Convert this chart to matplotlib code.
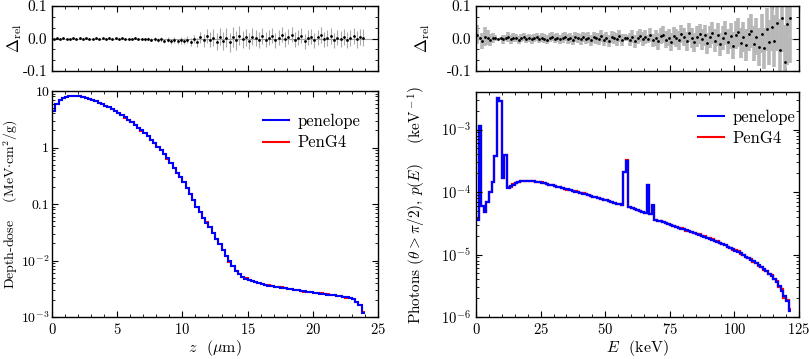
import numpy as np
import matplotlib
matplotlib.use("Agg")
import matplotlib.pyplot as plt
from matplotlib.ticker import MultipleLocator, FixedLocator, LogLocator, NullFormatter
from matplotlib.lines import Line2D

plt.rcParams.update({
    "font.family": "serif",
    "font.serif": ["cmr10", "DejaVu Serif"],
    "mathtext.fontset": "cm",
    "axes.unicode_minus": False,
    "axes.formatter.use_mathtext": True,
    "font.size": 10,
    "axes.linewidth": 1.0,
    "xtick.direction": "in", "ytick.direction": "in",
    "xtick.top": True, "ytick.right": True,
    "xtick.major.size": 4, "ytick.major.size": 4,
    "xtick.minor.size": 2, "ytick.minor.size": 2,
    "xtick.minor.visible": True, "ytick.minor.visible": True,
})

# depth-dose, bins of 0.25 um from 0 to 24 um (MeV cm2/g)
z_step = 0.25
dose = [4.5, 6.0, 7.0, 7.6, 7.95, 8.1, 8.15, 8.1,
        8.0, 7.8, 7.55, 7.25, 6.9, 6.55, 6.2, 5.85,
        5.5, 5.15, 4.8, 4.45, 4.1, 3.75, 3.4, 3.1,
        2.8, 2.5, 2.25, 2.0, 1.78, 1.57, 1.38, 1.2,
        1.04, 0.89, 0.76, 0.64, 0.53, 0.44, 0.36, 0.3,
        0.245, 0.195, 0.152, 0.117, 0.09, 0.071, 0.057, 0.047,
        0.039, 0.031, 0.0245, 0.0193, 0.0152, 0.0121, 0.0097, 0.0079,
        0.0066, 0.0058, 0.0052, 0.0048, 0.0045, 0.0043, 0.0041, 0.0040,
        0.0038, 0.0037, 0.0036, 0.0035, 0.0034, 0.00335, 0.0033, 0.00322,
        0.00315, 0.0031, 0.00303, 0.00297, 0.0029, 0.00285, 0.0028, 0.00274,
        0.0027, 0.00265, 0.0026, 0.00255, 0.0025, 0.00246, 0.00242, 0.00238,
        0.00233, 0.00228, 0.00222, 0.00215, 0.00205, 0.00188, 0.00165, 0.0012]
dose_delta = [0.0, 0.0005, -0.0003, 0.0002, 0.0, -0.0004, 0.0003, 0.0,
              0.0002, -0.0005, 0.0004, 0.0, -0.0003, 0.0006, -0.0002, 0.0003,
              -0.0006, 0.0004, -0.0008, 0.0002, -0.001, 0.0005, -0.0012, -0.0003,
              -0.0015, 0.001, -0.002, -0.0008, -0.003, -0.001, -0.004, -0.002,
              -0.005, -0.003, -0.007, -0.004, -0.008, -0.005, -0.009, -0.006,
              -0.008, -0.004, -0.01, -0.002, -0.012, 0.004, -0.006, 0.008,
              -0.004, 0.003, -0.01, 0.006, -0.008, 0.002, -0.012, 0.005,
              -0.006, 0.009, -0.003, 0.004, -0.008, 0.006, 0.002, -0.005,
              0.008, -0.004, 0.003, 0.009, -0.006, 0.002, 0.011, -0.003,
              0.005, 0.012, -0.004, 0.003, 0.008, -0.009, 0.002, 0.006,
              -0.005, 0.004, 0.01, -0.003, 0.002, 0.008, -0.006, 0.003,
              -0.002, 0.005, -0.004, 0.002, 0.007, -0.003, 0.004, 0.003]
dose_err = [0.002, 0.0015, 0.0013, 0.0012, 0.0012, 0.0012, 0.0012, 0.0012,
            0.0012, 0.0013, 0.0013, 0.0014, 0.0014, 0.0015, 0.0015, 0.0016,
            0.0017, 0.0018, 0.0019, 0.002, 0.0021, 0.0023, 0.0025, 0.0027,
            0.003, 0.0032, 0.0035, 0.0038, 0.004, 0.0045, 0.005, 0.0055,
            0.006, 0.0065, 0.007, 0.0075, 0.008, 0.0085, 0.009, 0.0095,
            0.010, 0.011, 0.012, 0.013, 0.015, 0.017, 0.019, 0.021,
            0.023, 0.025, 0.026, 0.027, 0.028, 0.029, 0.030, 0.030,
            0.029, 0.028, 0.027, 0.026, 0.025, 0.025, 0.024, 0.024,
            0.024, 0.023, 0.023, 0.023, 0.023, 0.023, 0.023, 0.023,
            0.023, 0.023, 0.023, 0.023, 0.023, 0.023, 0.023, 0.023,
            0.023, 0.023, 0.024, 0.024, 0.024, 0.024, 0.024, 0.024,
            0.024, 0.024, 0.024, 0.024, 0.025, 0.025, 0.025, 0.025]

# photon spectrum, 1 keV bins from 0 to 122 keV (1/keV)
e_step = 1.0
photons = [3.6e-5, 1.15e-3, 6.0e-5, 4.8e-5, 7.0e-5, 1.0e-4, 1.45e-4, 3.8e-4, 3.2e-3, 2.9e-3,
           1.7e-4, 3.9e-4, 1.18e-4, 1.23e-4, 1.32e-4, 1.39e-4, 1.44e-4, 1.48e-4, 1.5e-4, 1.51e-4,
           1.51e-4, 1.5e-4, 1.49e-4, 1.47e-4, 1.45e-4, 1.42e-4, 1.385e-4, 1.35e-4, 1.315e-4, 1.28e-4,
           1.25e-4, 1.22e-4, 1.19e-4, 1.16e-4, 1.13e-4, 1.10e-4, 1.075e-4, 1.05e-4, 1.02e-4, 9.95e-5,
           9.7e-5, 9.45e-5, 9.2e-5, 8.95e-5, 8.7e-5, 8.45e-5, 8.2e-5, 7.95e-5, 7.75e-5, 7.55e-5,
           7.35e-5, 7.15e-5, 6.95e-5, 6.75e-5, 6.55e-5, 6.35e-5, 6.15e-5, 2.1e-4, 3.2e-4, 5.8e-5,
           5.6e-5, 5.4e-5, 5.2e-5, 5.0e-5, 4.8e-5, 4.6e-5, 1.32e-4, 4.4e-5, 6.1e-5, 3.6e-5,
           3.5e-5, 3.38e-5, 3.27e-5, 3.16e-5, 3.06e-5, 2.96e-5, 2.87e-5, 2.78e-5, 2.69e-5, 2.6e-5,
           2.52e-5, 2.44e-5, 2.37e-5, 2.29e-5, 2.22e-5, 2.15e-5, 2.08e-5, 2.01e-5, 1.94e-5, 1.87e-5,
           1.8e-5, 1.73e-5, 1.67e-5, 1.6e-5, 1.54e-5, 1.47e-5, 1.41e-5, 1.34e-5, 1.28e-5, 1.22e-5,
           1.16e-5, 1.1e-5, 1.04e-5, 9.8e-6, 9.3e-6, 8.8e-6, 8.3e-6, 7.8e-6, 7.3e-6, 6.8e-6,
           6.3e-6, 5.85e-6, 5.4e-6, 4.95e-6, 4.5e-6, 4.1e-6, 3.65e-6, 3.15e-6, 2.6e-6, 2.2e-6,
           1.8e-6, 1.25e-6]
photon_delta = [0.012, 0.001, -0.008, 0.006, 0.003, -0.004, 0.002, 0.001, 0.0, 0.001,
                -0.003, 0.002, 0.004, -0.002, 0.003, 0.001, -0.004, 0.002, 0.005, -0.001,
                0.002, -0.003, 0.001, 0.004, -0.002, 0.003, 0.0, -0.004, 0.002, 0.005,
                -0.001, 0.003, -0.003, 0.001, 0.006, -0.002, 0.002, -0.005, 0.004, 0.001,
                -0.003, 0.005, -0.001, 0.002, -0.006, 0.004, 0.001, -0.002, 0.007, -0.004,
                0.003, -0.007, 0.005, 0.001, -0.003, 0.008, -0.005, 0.002, 0.001, -0.004,
                0.006, -0.008, 0.003, 0.009, -0.002, 0.004, -0.001, 0.011, -0.006, 0.002,
                -0.009, 0.007, 0.012, -0.004, 0.003, -0.011, 0.008, 0.001, -0.006, 0.014,
                0.004, -0.008, 0.018, 0.002, -0.012, 0.006, 0.015, -0.003, 0.01, -0.015,
                0.005, 0.016, -0.007, 0.012, -0.018, 0.003, 0.017, -0.01, 0.008, -0.022,
                0.011, 0.019, -0.014, 0.004, -0.02, 0.013, 0.022, -0.016, 0.006, -0.026,
                0.015, -0.03, 0.028, -0.012, 0.036, -0.008, 0.048, -0.035, 0.062, -0.072,
                0.045, 0.064]
photon_err = [0.03, 0.006, 0.025, 0.028, 0.022, 0.018, 0.015, 0.009, 0.003, 0.003,
              0.014, 0.009, 0.015, 0.014, 0.014, 0.013, 0.013, 0.013, 0.013, 0.013,
              0.013, 0.013, 0.013, 0.013, 0.013, 0.014, 0.014, 0.014, 0.014, 0.014,
              0.014, 0.015, 0.015, 0.015, 0.015, 0.015, 0.015, 0.016, 0.016, 0.016,
              0.016, 0.016, 0.017, 0.017, 0.017, 0.017, 0.017, 0.018, 0.018, 0.018,
              0.018, 0.018, 0.019, 0.019, 0.019, 0.019, 0.019, 0.011, 0.009, 0.020,
              0.020, 0.020, 0.021, 0.021, 0.021, 0.021, 0.013, 0.022, 0.019, 0.025,
              0.025, 0.025, 0.026, 0.026, 0.026, 0.027, 0.027, 0.027, 0.028, 0.028,
              0.028, 0.029, 0.029, 0.030, 0.030, 0.031, 0.031, 0.032, 0.032, 0.033,
              0.033, 0.034, 0.035, 0.035, 0.036, 0.037, 0.038, 0.039, 0.040, 0.041,
              0.042, 0.044, 0.045, 0.047, 0.048, 0.050, 0.052, 0.054, 0.056, 0.058,
              0.060, 0.063, 0.066, 0.070, 0.074, 0.080, 0.086, 0.095, 0.105, 0.115,
              0.125, 0.14]

labels = ["penelope", "PenG4"]
colors = ["#0000ff", "#ff0000"]
dose_ticks = [1e-3, 1e-2, 0.1, 1, 10]
dose_ticklabels = ["$10^{-3}$", "$10^{-2}$", "0.1", "1", "10"]
delta_ticks = [-0.1, 0.0, 0.1]
delta_ticklabels = ["-0.1", "0.0", "0.1"]

dose = np.array(dose)
photons = np.array(photons)
z_edges = np.arange(len(dose) + 1) * z_step
e_edges = np.arange(len(photons) + 1) * e_step
z_mid = 0.5 * (z_edges[:-1] + z_edges[1:])
e_mid = 0.5 * (e_edges[:-1] + e_edges[1:])
# PenG4 from the relative difference
dose_g4 = dose * (1 + np.array(dose_delta))
photons_g4 = photons * (1 + np.array(photon_delta))

fig = plt.figure(figsize=(8.09, 3.59), dpi=100)
W, H = 809, 359


def box(x0, y0, x1, y1):
    return [x0 / W, 1 - y1 / H, (x1 - x0) / W, (y1 - y0) / H]


ax1t = fig.add_axes(box(52, 6, 378, 71))
ax1 = fig.add_axes(box(52, 91, 378, 317))
ax2t = fig.add_axes(box(476, 6, 799, 71))
ax2 = fig.add_axes(box(476, 92, 799, 317))

# top panels
for ax, x, d, e, lw, ec in [(ax1t, z_mid, dose_delta, dose_err, 0.8, "#a8a8a8"),
                            (ax2t, e_mid, photon_delta, photon_err, 2.6, "#b8b8b8")]:
    ax.axhline(0, color="#a0a0a0", lw=0.8, zorder=0)
    ax.errorbar(x, d, yerr=e, fmt="o", ms=1.0, mfc="k", mec="k", ecolor=ec,
                elinewidth=lw, capsize=0)
    ax.set_ylim(-0.1, 0.1)
    ax.yaxis.set_major_locator(FixedLocator(delta_ticks))
    ax.set_yticklabels(delta_ticklabels)
    ax.yaxis.set_minor_locator(MultipleLocator(0.1 / 3))
    ax.tick_params(labelbottom=False, labelsize=11)
    ax.set_ylabel(r"$\Delta_{\rm rel}$", fontsize=12)

ax1t.set_xlim(0, 25)
ax1t.xaxis.set_major_locator(MultipleLocator(5))
ax1t.xaxis.set_minor_locator(MultipleLocator(1))
ax1t.yaxis.set_label_coords(-0.085, 0.5)
ax2t.set_xlim(0, 125)
ax2t.xaxis.set_major_locator(MultipleLocator(25))
ax2t.xaxis.set_minor_locator(MultipleLocator(5))
ax2t.yaxis.set_label_coords(-0.135, 0.5)

# depth-dose
ax1.stairs(dose_g4, z_edges, color=colors[1], lw=1.5, baseline=None)
ax1.stairs(dose, z_edges, color=colors[0], lw=1.5, baseline=None)
ax1.set_yscale("log")
ax1.set_xlim(0, 25)
ax1.set_ylim(1e-3, 10)
ax1.xaxis.set_major_locator(MultipleLocator(5))
ax1.xaxis.set_minor_locator(MultipleLocator(1))
ax1.yaxis.set_major_locator(FixedLocator(dose_ticks))
ax1.set_yticklabels(dose_ticklabels)
ax1.yaxis.set_minor_locator(LogLocator(subs=np.arange(2, 10)))
ax1.yaxis.set_minor_formatter(NullFormatter())
ax1.set_xlabel(r"$z$  ($\mu$m)", fontsize=11.5)
ax1.set_ylabel(r"Depth-dose    (MeV$\cdot$cm$^2$/g)", fontsize=10)
ax1.yaxis.set_label_coords(-0.097, 0.5)

# photon spectrum
ax2.stairs(photons_g4, e_edges, color=colors[1], lw=1.6, baseline=None)
ax2.stairs(photons, e_edges, color=colors[0], lw=1.6, baseline=None)
ax2.set_yscale("log")
ax2.set_xlim(0, 125)
ax2.set_ylim(1e-6, 4e-3)
ax2.xaxis.set_major_locator(MultipleLocator(25))
ax2.xaxis.set_minor_locator(MultipleLocator(5))
ax2.yaxis.set_minor_locator(LogLocator(subs=np.arange(2, 10)))
ax2.yaxis.set_minor_formatter(NullFormatter())
ax2.set_xlabel(r"$E$  (keV)", fontsize=11.5)
ax2.set_ylabel(r"Photons ($\theta > \pi/2$), $p(E)$    (keV$^{\rm -1}$)", fontsize=11)
ax2.yaxis.set_label_coords(-0.15, 0.5)

for ax in (ax1, ax2):
    ax.tick_params(labelsize=10.5)
    ax.xaxis.set_label_coords(0.5, -0.095)
    handles = [Line2D([], [], color=c, lw=1.5) for c in colors]
    ax.legend(handles, labels, frameon=False, loc="upper left",
              bbox_to_anchor=(0.6, 0.965) if ax is ax1 else (0.64, 0.99),
              handlelength=1.6, handletextpad=0.5, fontsize=12, labelspacing=0.35)
ax1.tick_params(axis="y", which="major", pad=2, labelsize=10)

fig.savefig("out.png", dpi=100)
